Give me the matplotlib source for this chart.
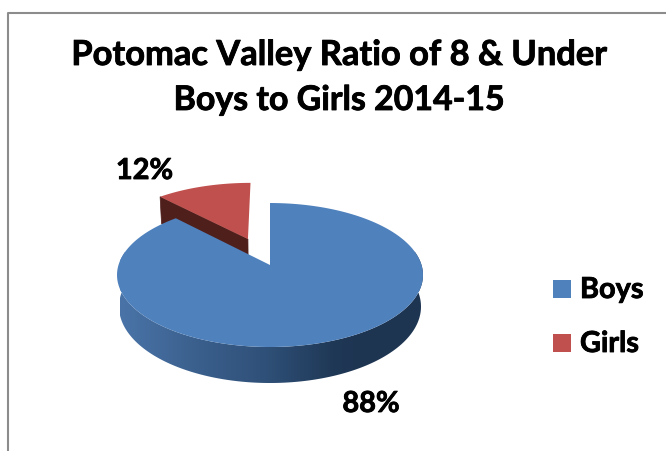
import numpy as np
import matplotlib
matplotlib.use("Agg")
import matplotlib.pyplot as plt
import matplotlib.patheffects as pe
from matplotlib.colors import LinearSegmentedColormap
from matplotlib.patches import Polygon, Rectangle

# =========================
# 1. DATA
# =========================
categories = ["Boys", "Girls"]
percents = [88, 12]
title_lines = ["Potomac Valley Ratio of 8 & Under", "Boys to Girls 2014-15"]

# =========================
# 2. STYLE
# =========================
plt.rcParams["font.family"] = ["Lato", "DejaVu Sans"]
plt.rcParams["font.weight"] = "bold"

top_colors = ["#4f81bd", "#c0504d"]
red_face = "#4f1f1c"
border = "#8c8c8c"
side_cmap = LinearSegmentedColormap.from_list(
    "side", [(0, "#4a74a8"), (0.33, "#3a5f8c"), (0.61, "#2f5078"), (0.89, "#1f3856"), (1, "#1e3552")]
)
heavy = [pe.withStroke(linewidth=0.6, foreground="black")]

# pie geometry in picture pixels, fake perspective like the 3d office charts
cx, cy = 270.0, 265.0
rx, ry = 151.5, 70.6
k = 0.139
depth = 31.0
shrink = 0.013
explode = 0.417


def project(u, v, z=0.0):
    d = 1 + k * v
    x = cx + rx * u / d * (1 - shrink * z)
    y = cy - ry * v / d + depth * z / d
    return x, y


def rim(start, end, n=200):
    # angles run clockwise from 12 o'clock, as fraction of the circle
    a = 2 * np.pi * np.linspace(start, end, n)
    return np.sin(a), np.cos(a)


fig = plt.figure(figsize=(6.66, 4.51), dpi=100)
ax = fig.add_axes([0, 0, 1, 1])

# frame of the chart, cut off by the picture at right and bottom
ax.plot([7.5, 7.5, 666], [451, 12.5, 12.5], color=border, lw=1.5)

# =========================
# 3. PIE
# =========================
fractions = np.array(percents) / sum(percents)
boy_end = fractions[0]
mid = boy_end + fractions[1] / 2
off_u = explode * np.sin(2 * np.pi * mid)
off_v = explode * np.cos(2 * np.pi * mid)

# girls slice sits behind, so it goes first
u, v = rim(boy_end, 1.0)
u = u + off_u
v = v + off_v
p0 = project(off_u, off_v)
p1 = project(u[0], v[0])
p2 = project(u[0], v[0], 1)
p3 = project(off_u, off_v, 1)
ax.fill([p0[0], p1[0], p2[0], p3[0]], [p0[1], p1[1], p2[1], p3[1]], color=red_face, lw=0.5)
x, y = project(u, v)
ax.fill(np.r_[p0[0], x], np.r_[p0[1], y], color=top_colors[1], lw=0)

# boys side wall, gradient image clipped to the wall shape
u, v = rim(0, boy_end, 400)
xt, yt = project(u, v)
xb, yb = project(u, v, 1)
front = v < 0.2
wall = Polygon(np.c_[np.r_[xt[front], xb[front][::-1]], np.r_[yt[front], yb[front][::-1]]],
               closed=True, transform=ax.transData, facecolor="none", edgecolor="none")
ax.add_patch(wall)
grad = np.linspace(0, 1, 256).reshape(1, -1)
im = ax.imshow(grad, cmap=side_cmap, extent=[120, 360, 400, 250], aspect="auto", zorder=1,
               interpolation="bilinear")
im2 = ax.imshow(np.ones((1, 1)), cmap=side_cmap, vmin=0, vmax=1, extent=[360, 430, 400, 250],
                aspect="auto", zorder=1)
im.set_clip_path(wall)
im2.set_clip_path(wall)

# boys top
ax.fill(np.r_[cx, xt], np.r_[cy, yt], color=top_colors[0], lw=0, zorder=2)

ax.set_xlim(0, 666)
ax.set_ylim(451, 0)
ax.axis("off")

# =========================
# 4. TEXT
# =========================
ax.text(339.5, 55, title_lines[0], ha="center", va="center", fontsize=24.8, color="black",
        path_effects=heavy)
ax.text(339, 100, title_lines[1], ha="center", va="center", fontsize=24.4, color="black",
        path_effects=heavy)

ax.text(144.5, 171, f"{percents[1]}%", ha="center", va="center", fontsize=20.8, color="black",
        path_effects=heavy)
ax.text(371, 404, f"{percents[0]}%", ha="center", va="center", fontsize=20.8, color="black",
        path_effects=heavy)

legend_y = [280, 334]
for name, col, ly in zip(categories, top_colors, legend_y):
    ax.add_patch(Rectangle((553, ly), 18, 18, facecolor=col, edgecolor="none"))
    ax.text(580, ly + 10, name, ha="left", va="center", fontsize=20.8, color="black",
            path_effects=heavy)

# =========================
# 5. SAVE
# =========================
plt.savefig("out.png", dpi=100)
